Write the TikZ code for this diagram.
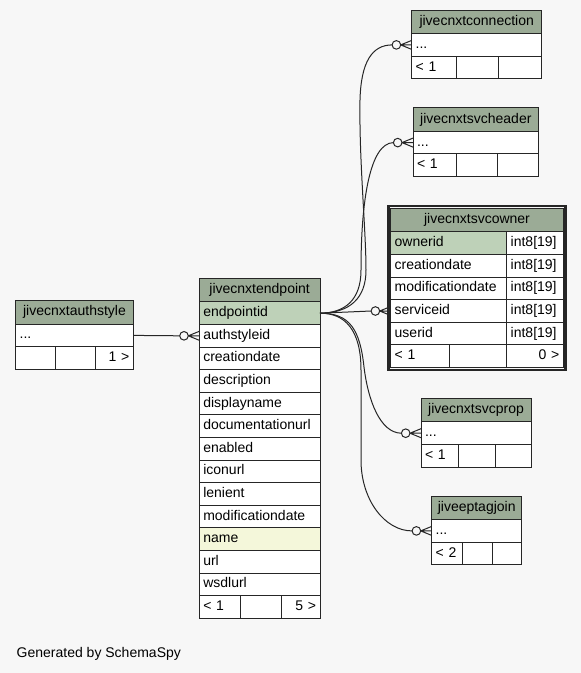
\documentclass[tikz,border=0pt]{standalone}
\usepackage{fontspec}
\setmainfont{Liberation Sans}
\usetikzlibrary{positioning,fit}

\definecolor{bgc}{HTML}{F7F7F7}
\definecolor{hdrc}{HTML}{9BAB96}
\definecolor{pkc}{HTML}{BED1B8}
\definecolor{idxc}{HTML}{F4F7DA}
\definecolor{tline}{HTML}{262626}

% crow's foot at the west side of a row
\newcommand{\crowfoot}[1]{%
  \draw[link] ([xshift=-11pt]#1.west) -- ([yshift=4.5pt]#1.west)
    ([xshift=-11pt]#1.west) -- (#1.west)
    ([xshift=-11pt]#1.west) -- ([yshift=-4.5pt]#1.west);}

\begin{document}
\begin{tikzpicture}[x=1pt, y=-1pt, font=\fontsize{14}{16}\selectfont,
  hdr/.style={draw=tline, fill=hdrc, line width=1pt, anchor=north west, minimum width=#1, minimum height=23.6, inner sep=0pt, outer sep=0pt, text height=10pt, text depth=3pt},
  cell/.style={draw=tline, fill=white, line width=1pt, anchor=north west, minimum height=22.6, inner xsep=4pt, inner ysep=0pt, outer sep=0pt, text width=#1, align=left, text height=10pt, text depth=3pt},
  cellr/.style={cell=#1, align=right},
  odot/.style={circle, draw=tline, line width=1pt, minimum size=8.6, inner sep=0pt, outer sep=0pt},
  link/.style={draw=tline, line width=1pt}]
  \path[use as bounding box, fill=bgc] (0,0) rectangle (581,673);

  % jivecnxtconnection
  \node[hdr=130] (cn-h) at (411.7,10) {jivecnxtconnection};
  \node[cell=122, below=0pt of cn-h] (cn-1) {...};
  \node[cell=36.3, below=0pt of cn-1.south west, anchor=north west] (cn-f1) {< 1};
  \node[cell=34.3, right=0pt of cn-f1] (cn-f2) {};
  \node[cell=35.4, right=0pt of cn-f2] (cn-f3) {};

  % jivecnxtsvcheader
  \node[hdr=125.7] (sh-h) at (413,107.7) {jivecnxtsvcheader};
  \node[cell=117.7, below=0pt of sh-h] (sh-1) {...};
  \node[cell=35, below=0pt of sh-1.south west, anchor=north west] (sh-f1) {< 1};
  \node[cell=33, right=0pt of sh-f1] (sh-f2) {};
  \node[cell=33.7, right=0pt of sh-f2] (sh-f3) {};

  % jivecnxtsvcowner
  \node[hdr=172.6] (so-0) at (390.7,208.3) {jivecnxtsvcowner};
  \foreach \txt/\fc [count=\i] in {ownerid/pkc, creationdate/white, modificationdate/white, serviceid/white, userid/white} {
    \pgfmathtruncatemacro\j{\i-1}
    \node[cell=108, fill=\fc, below=0pt of so-\j.south west, anchor=north west] (so-\i) {\txt};
    \node[cell=48.6, right=0pt of so-\i] (so-t\i) {int8[19]};
  }
  \node[cell=50.3, below=0pt of so-5.south west, anchor=north west] (so-f1) {< 1};
  \node[cell=49.7, right=0pt of so-f1] (so-f2) {};
  \node[cellr=48.6, right=0pt of so-f2] (so-f3) {0 >};
  \node[draw=tline, line width=2.6pt, inner sep=2.4pt, fit=(so-0)(so-f1)(so-f3)] (so-box) {};

  % jivecnxtendpoint
  \node[hdr=120.7] (ep-0) at (199.3,278.3) {jivecnxtendpoint};
  \foreach \txt/\fc [count=\i] in {endpointid/pkc, authstyleid/white, creationdate/white, description/white, displayname/white, documentationurl/white, enabled/white, iconurl/white, lenient/white, modificationdate/white, name/idxc, url/white, wsdlurl/white} {
    \pgfmathtruncatemacro\j{\i-1}
    \node[cell=112.7, fill=\fc, below=0pt of ep-\j] (ep-\i) {\txt};
  }
  \node[cell=33.4, below=0pt of ep-13.south west, anchor=north west] (ep-f1) {< 1};
  \node[cell=32.3, right=0pt of ep-f1] (ep-f2) {};
  \node[cellr=31, right=0pt of ep-f2] (ep-f3) {5 >};

  % jivecnxtauthstyle
  \node[hdr=117.6] (au-h) at (15.7,300.5) {jivecnxtauthstyle};
  \node[cell=109.6, below=0pt of au-h] (au-1) {...};
  \node[cell=31.3, below=0pt of au-1.south west, anchor=north west] (au-f1) {};
  \node[cell=32, right=0pt of au-f1] (au-f2) {};
  \node[cellr=30.3, right=0pt of au-f2] (au-f3) {1 >};

  % jivecnxtsvcprop
  \node[hdr=110] (sp-h) at (421,398.3) {jivecnxtsvcprop};
  \node[cell=102, below=0pt of sp-h] (sp-1) {...};
  \node[cell=29.3, below=0pt of sp-1.south west, anchor=north west] (sp-f1) {< 1};
  \node[cell=28.7, right=0pt of sp-f1] (sp-f2) {};
  \node[cell=28, right=0pt of sp-f2] (sp-f3) {};

  % jiveeptagjoin
  \node[hdr=90] (tj-h) at (431.7,496) {jiveeptagjoin};
  \node[cell=82, below=0pt of tj-h] (tj-1) {...};
  \node[cell=23, below=0pt of tj-1.south west, anchor=north west] (tj-f1) {< 2};
  \node[cell=21.6, right=0pt of tj-f1] (tj-f2) {};
  \node[cell=21.4, right=0pt of tj-f2] (tj-f3) {};

  % optional ends
  \node[odot, left=11pt of cn-1.west] (cn-o) {};
  \node[odot, left=11pt of sh-1.west] (sh-o) {};
  \node[odot, left=11pt of so-4.west] (so-o) {};
  \node[odot, left=11pt of sp-1.west] (sp-o) {};
  \node[odot, left=11pt of tj-1.west] (tj-o) {};
  \node[odot, left=11pt of ep-2.west] (ep-o) {};
  \crowfoot{cn-1}
  \crowfoot{sh-1}
  \crowfoot{so-4}
  \crowfoot{sp-1}
  \crowfoot{tj-1}
  \crowfoot{ep-2}

  % relations
  \draw[link] (ep-1.east) .. controls (350,313) and (366,298) .. (366,270)
    .. controls (366,230) and (359,160) .. (360,100)
    .. controls (361,62) and (372,45) .. (cn-o.west);
  \draw[link] (ep-1.east) .. controls (345,313) and (361,300) .. (361,270)
    .. controls (361,200) and (370,143) .. (sh-o.west);
  \draw[link] (ep-1.east) -- (so-o.west);
  \draw[link] (ep-1.east) .. controls (350,313) and (360,330) .. (364,367)
    .. controls (368,400) and (380,433) .. (sp-o.west);
  \draw[link] (ep-1.east) .. controls (345,313) and (361,330) .. (361,370) -- (361,460)
    .. controls (361,500) and (385,531) .. (tj-o.west);
  \draw[link] (au-1.east) -- (ep-o.west);

  \node[anchor=base west, inner sep=0pt] (credit) at (16.5,657) {Generated by SchemaSpy};
\end{tikzpicture}
\end{document}
